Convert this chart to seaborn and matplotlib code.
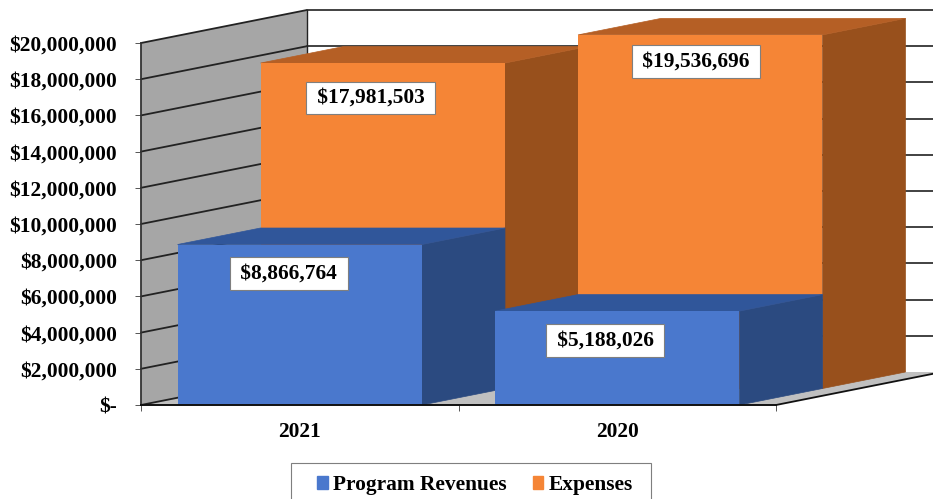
import matplotlib.pyplot as plt
import seaborn as sns
from matplotlib.patches import Patch, Rectangle

sns.set_theme(style="white")
plt.rcParams['font.family'] = ['Liberation Serif', 'DejaVu Sans']
plt.rcParams['font.weight'] = 'bold'

years = ["2021", "2020"]
revenues = [8866764, 5188026]
expenses = [17981503, 19536696]
value_labels_rev = ["$8,866,764", "$5,188,026"]
value_labels_exp = ["$17,981,503", "$19,536,696"]
y_ticks = [0, 2000000, 4000000, 6000000, 8000000, 10000000,
           12000000, 14000000, 16000000, 18000000, 20000000]
y_tick_labels = ["$-", "$2,000,000", "$4,000,000", "$6,000,000", "$8,000,000", "$10,000,000",
                 "$12,000,000", "$14,000,000", "$16,000,000", "$18,000,000", "$20,000,000"]

W, H = 933, 499
LEFT, RIGHT, BOTTOM, TOP = 141, 776, 405, 43
# full depth of the fake 3d box, in pixels
DEPTH_X, DEPTH_Y = 166, 33
FS = 15.4

XLIM = (-0.5, 1.5)
YLIM = (0, 20000000)
dx = DEPTH_X / (RIGHT - LEFT) * 2
dy = DEPTH_Y / (BOTTOM - TOP) * 20000000

fig = plt.figure(figsize=(W / 100, H / 100), dpi=100)


def make_axes(shift_x=0, shift_y=0):
    ax = fig.add_axes([(LEFT + shift_x) / W, (H - BOTTOM + shift_y) / H,
                       (RIGHT - LEFT) / W, (BOTTOM - TOP) / H])
    ax.patch.set_visible(False)
    return ax


def add_faces(ax, side, top):
    # side and top of each bar, half the depth of the box, behind the front faces
    for bar in list(ax.patches):
        x0 = bar.get_x()
        x1 = x0 + bar.get_width()
        h = bar.get_height()
        ax.fill([x1, x1 + dx / 2, x1 + dx / 2, x1], [0, dy / 2, h + dy / 2, h],
                color=side, lw=0.5, clip_on=False, zorder=0.5)
        ax.fill([x0, x1, x1 + dx / 2, x0 + dx / 2], [h, h, h + dy / 2, h + dy / 2],
                color=top, lw=0.5, clip_on=False, zorder=0.5)


def add_labels(ax, labels, offsets):
    for bar, text, (ox, oy) in zip(ax.patches, labels, offsets):
        ax.annotate(f"\u2009{text}\u2009", (bar.get_x() + bar.get_width() / 2, bar.get_height()),
                    xytext=(ox * 0.72, oy * 0.72), textcoords="offset points",
                    ha="center", va="center", fontsize=FS, color="black", zorder=10,
                    bbox=dict(boxstyle="square,pad=0.3", fc="white", ec="#7f7f7f", lw=0.8))


# walls and floor
ax_wall = make_axes()
ax_wall.set_xlim(XLIM)
ax_wall.set_ylim(YLIM)
a, b = XLIM
top_y = YLIM[1]
ax_wall.fill([a, a + dx, a + dx, a], [0, dy, top_y + dy, top_y], color="#a6a6a6", lw=0, clip_on=False)
ax_wall.fill([a, b, b + dx, a + dx], [0, 0, dy, dy], color="#c0c0c0", lw=0, clip_on=False)
for t in y_ticks:
    ax_wall.plot([a, a + dx], [t, t + dy], color="#222222", lw=1.3, clip_on=False)
    if t > 0:
        ax_wall.plot([a + dx, b + dx], [t + dy, t + dy], color="#333333", lw=1.3, clip_on=False)
ax_wall.plot([a + dx, a + dx], [dy, top_y + dy], color="#222222", lw=1.0, clip_on=False)
ax_wall.plot([b, b + dx], [0, dy], color="#111111", lw=1.3, clip_on=False)
ax_wall.set_yticks(y_ticks, y_tick_labels, fontsize=FS, fontweight="bold", color="black")
ax_wall.set_xticks([0, 1], years, fontsize=FS, fontweight="bold", color="black")
ax_wall.set_xticks([-0.5, 0.5, 1.5], minor=True)
ax_wall.tick_params(axis="y", length=4.5, width=0.7, color="#555555", pad=12.7, left=True)
ax_wall.tick_params(axis="x", which="major", length=0, pad=12)
ax_wall.tick_params(axis="x", which="minor", length=4.5, width=0.7, color="#555555", bottom=True)
sns.despine(ax=ax_wall, top=True, right=True, bottom=True)
ax_wall.spines["left"].set_color("#333333")
ax_wall.spines["left"].set_linewidth(1.3)

# back row, half a box deeper
ax_exp = make_axes(DEPTH_X / 2, DEPTH_Y / 2)
sns.barplot(x=years, y=expenses, color="#f58536", saturation=1, width=0.77, linewidth=0, ax=ax_exp)
ax_exp.set_xlim(XLIM)
ax_exp.set_ylim(YLIM)
ax_exp.axis("off")
exp_offsets = [(-12, -35), (-4, -27)]
add_labels(ax_exp, value_labels_exp, exp_offsets)
add_faces(ax_exp, "#98501c", "#b55f25")

# front row
ax_rev = make_axes()
sns.barplot(x=years, y=revenues, color="#4a78cd", saturation=1, width=0.77, linewidth=0, ax=ax_rev)
ax_rev.set_xlim(XLIM)
ax_rev.set_ylim(YLIM)
ax_rev.set_xticks([])
ax_rev.set_yticks([])
ax_rev.set_xlabel("")
ax_rev.set_ylabel("")
rev_offsets = [(-11, -29), (-12, -29)]
add_labels(ax_rev, value_labels_rev, rev_offsets)
add_faces(ax_rev, "#2b4a80", "#30569a")
sns.despine(ax=ax_rev, top=True, right=True, left=True)
ax_rev.spines["bottom"].set_color("#111111")
ax_rev.spines["bottom"].set_linewidth(1.4)

# legend box runs off the bottom of the picture
fig.add_artist(Rectangle((291 / W, -10 / H), 360 / W, (499 - 463 + 10) / H, transform=fig.transFigure,
                         fc="white", ec="#7f7f7f", lw=0.8))
handles = [Patch(color="#4a78cd", label="Program Revenues"), Patch(color="#f58536", label="Expenses")]
fig.legend(handles=handles, loc="center", bbox_to_anchor=(475 / W, 1 - 485 / H), ncol=2,
           fontsize=FS, frameon=False, labelcolor="black", handlelength=0.51, handleheight=0.51,
           handletextpad=0.23, columnspacing=1.2, borderpad=0, borderaxespad=0)

fig.savefig("out.png", dpi=100)
